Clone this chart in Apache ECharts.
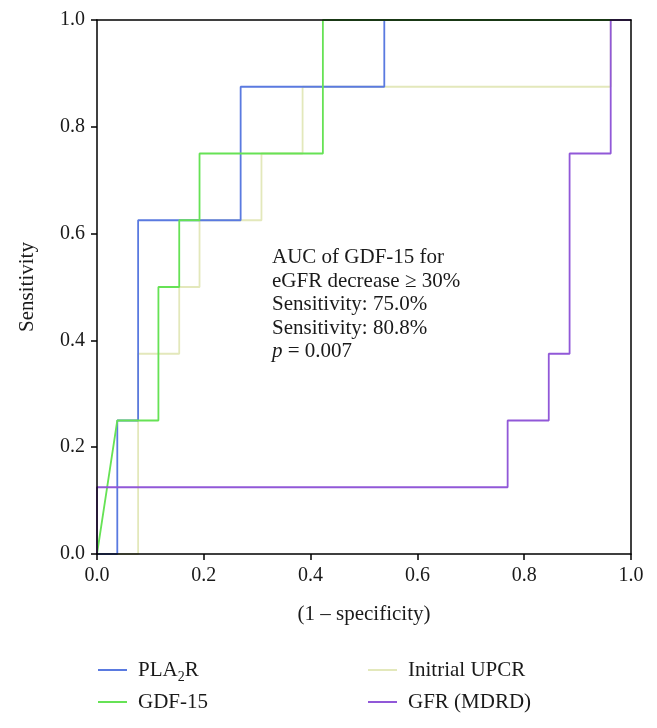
<!DOCTYPE html>
<html>
<head>
<meta charset="utf-8">
<script src="https://cdn.jsdelivr.net/npm/echarts@6/dist/echarts.min.js"></script>
<style>
html,body{margin:0;padding:0;background:#fff;}
#chart{width:657px;height:728px;}
</style>
</head>
<body>
<div id="chart"></div>
<script>
// ROC curve coordinates (1 - specificity, sensitivity)
var pla2rX = [0, 0.038, 0.038, 0.077, 0.077, 0.269, 0.269, 0.538, 0.538, 1];
var pla2rY = [0, 0, 0.25, 0.25, 0.625, 0.625, 0.875, 0.875, 1, 1];

var gdfX = [0, 0.038, 0.115, 0.115, 0.154, 0.154, 0.192, 0.192, 0.423, 0.423, 1];
var gdfY = [0, 0.25, 0.25, 0.5, 0.5, 0.625, 0.625, 0.75, 0.75, 1, 1];

var upcrX = [0, 0.077, 0.077, 0.154, 0.154, 0.192, 0.192, 0.308, 0.308, 0.385, 0.385, 0.962, 0.962, 1];
var upcrY = [0, 0, 0.375, 0.375, 0.5, 0.5, 0.625, 0.625, 0.75, 0.75, 0.875, 0.875, 1, 1];

var gfrX = [0, 0, 0.769, 0.769, 0.846, 0.846, 0.885, 0.885, 0.962, 0.962, 1];
var gfrY = [0, 0.125, 0.125, 0.25, 0.25, 0.375, 0.375, 0.75, 0.75, 1, 1];

var seriesNames = ['PLA2R', 'GDF-15', 'Initrial UPCR', 'GFR (MDRD)'];
var tickValues = [0, 0.2, 0.4, 0.6, 0.8, 1.0];

function zip(xs, ys) { return xs.map(function (x, i) { return [x, ys[i]]; }); }

var FONT = 'Liberation Serif';
var chart = echarts.init(document.getElementById('chart'), null, {renderer: 'canvas'});

function lineSeries(name, xs, ys, color, z) {
  return {
    name: name, type: 'line', data: zip(xs, ys),
    showSymbol: false, symbol: 'none', z: z,
    lineStyle: {color: color, width: 1.8},
    itemStyle: {color: color},
    animation: false
  };
}

var legendText = {
  fontFamily: FONT, fontSize: 21, color: '#1a1a1a', lineHeight: 22,
  padding: [0, 0, 0, 6],
  rich: {
    a: {fontFamily: FONT, fontSize: 21, color: '#1a1a1a'},
    s: {fontFamily: FONT, fontSize: 14, color: '#1a1a1a', padding: [14, 0, 0, 0]}
  }
};
function legendFmt(n) {
  if (n === 'PLA2R') return '{a|PLA}{s|2}{a|R}';
  return n;
}
function fmt(v) { return v.toFixed(1); }

var frameAxis = {
  type: 'value', min: 0, max: 1, interval: 0.2, z: 20,
  axisLine: {show: true, onZero: false, lineStyle: {color: '#000', width: 1.5}},
  axisTick: {show: false}, axisLabel: {show: false}, splitLine: {show: false}
};

var option = {
  backgroundColor: '#fff',
  animation: false,
  grid: {left: 97, right: 26, top: 20, bottom: 174, show: false},
  xAxis: [{
    type: 'value', min: 0, max: 1, interval: 0.2, z: 20, position: 'bottom',
    name: '(1 – specificity)', nameLocation: 'middle', nameGap: 50,
    nameTextStyle: {fontFamily: FONT, fontSize: 21, color: '#1a1a1a'},
    axisLine: {show: true, onZero: false, lineStyle: {color: '#000', width: 1.5}},
    axisTick: {show: true, length: 6, lineStyle: {color: '#000', width: 1.5}},
    axisLabel: {fontFamily: FONT, fontSize: 20, color: '#1a1a1a', margin: 12, formatter: fmt},
    splitLine: {show: false}
  }, Object.assign({position: 'top'}, frameAxis)],
  yAxis: [{
    type: 'value', min: 0, max: 1, interval: 0.2, z: 20, position: 'left',
    name: 'Sensitivity', nameLocation: 'middle', nameGap: 59,
    nameTextStyle: {fontFamily: FONT, fontSize: 21, color: '#1a1a1a'},
    axisLine: {show: true, onZero: false, lineStyle: {color: '#000', width: 1.5}},
    axisTick: {show: true, length: 6, lineStyle: {color: '#000', width: 1.5}},
    axisLabel: {fontFamily: FONT, fontSize: 20, color: '#1a1a1a', margin: 12, formatter: fmt},
    splitLine: {show: false}
  }, Object.assign({position: 'right'}, frameAxis)],
  legend: [
    {data: [seriesNames[0], seriesNames[1]], orient: 'vertical', left: 98, top: 659, padding: 0,
     icon: 'rect', itemWidth: 29, itemHeight: 2, itemGap: 7,
     textStyle: legendText, formatter: legendFmt},
    {data: [seriesNames[2], seriesNames[3]], orient: 'vertical', left: 368, top: 659, padding: 0,
     icon: 'rect', itemWidth: 29, itemHeight: 2, itemGap: 10,
     textStyle: legendText, formatter: legendFmt}
  ],
  graphic: [{
    type: 'text', left: 272, top: 246, z: 100,
    style: {
      text: '{r|AUC of GDF-15 for}\n{r|eGFR decrease ≥ 30%}\n{r|Sensitivity: 75.0%}\n{r|Sensitivity: 80.8%}\n{i|p}{r| = 0.007}',
      fontFamily: FONT, fontSize: 21, lineHeight: 23.5, fill: '#1a1a1a',
      rich: {
        r: {fontFamily: FONT, fontSize: 21, lineHeight: 23.5, fill: '#1a1a1a', color: '#1a1a1a'},
        i: {fontFamily: FONT, fontSize: 21, lineHeight: 23.5, fontStyle: 'italic', fill: '#1a1a1a', color: '#1a1a1a'}
      }
    }
  }],
  series: [
    lineSeries(seriesNames[2], upcrX, upcrY, '#e3e8bb', 2),
    lineSeries(seriesNames[0], pla2rX, pla2rY, '#5a7ae0', 3),
    lineSeries(seriesNames[1], gdfX, gdfY, '#66e255', 4),
    lineSeries(seriesNames[3], gfrX, gfrY, '#9158d8', 5)
  ]
};
chart.setOption(option);
</script>
</body>
</html>
